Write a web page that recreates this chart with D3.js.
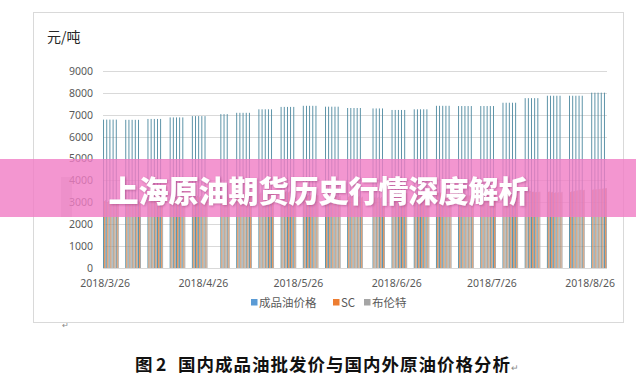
<!DOCTYPE html>
<html><head><meta charset="utf-8">
<script src="https://cdn.jsdelivr.net/npm/d3@7"></script>
<style>html,body{margin:0;padding:0;background:#fff;}svg{display:block;}</style>
</head><body>
<svg id="c" width="636" height="379"></svg>
<script>
// ---- data (trading days, grouped by week) ----
const dates = [
 "2018-03-26","2018-03-27","2018-03-28","2018-03-29","2018-03-30",
 "2018-04-02","2018-04-03","2018-04-04","2018-04-05","2018-04-06",
 "2018-04-09","2018-04-10","2018-04-11","2018-04-12","2018-04-13",
 "2018-04-16","2018-04-17","2018-04-18","2018-04-19","2018-04-20",
 "2018-04-23","2018-04-24","2018-04-25","2018-04-26","2018-04-27",
 "2018-05-02","2018-05-03","2018-05-04",
 "2018-05-07","2018-05-08","2018-05-09","2018-05-10","2018-05-11",
 "2018-05-14","2018-05-15","2018-05-16","2018-05-17","2018-05-18",
 "2018-05-21","2018-05-22","2018-05-23","2018-05-24","2018-05-25",
 "2018-05-28","2018-05-29","2018-05-30","2018-05-31","2018-06-01",
 "2018-06-04","2018-06-05","2018-06-06","2018-06-07","2018-06-08",
 "2018-06-11","2018-06-12","2018-06-13","2018-06-14","2018-06-15",
 "2018-06-19","2018-06-20","2018-06-21","2018-06-22",
 "2018-06-25","2018-06-26","2018-06-27","2018-06-28","2018-06-29",
 "2018-07-02","2018-07-03","2018-07-04","2018-07-05","2018-07-06",
 "2018-07-09","2018-07-10","2018-07-11","2018-07-12","2018-07-13",
 "2018-07-16","2018-07-17","2018-07-18","2018-07-19","2018-07-20",
 "2018-07-23","2018-07-24","2018-07-25","2018-07-26","2018-07-27",
 "2018-07-30","2018-07-31","2018-08-01","2018-08-02","2018-08-03",
 "2018-08-06","2018-08-07","2018-08-08","2018-08-09","2018-08-10",
 "2018-08-13","2018-08-14","2018-08-15","2018-08-16","2018-08-17",
 "2018-08-20","2018-08-21","2018-08-22","2018-08-23","2018-08-24",
 "2018-08-27","2018-08-28","2018-08-29","2018-08-30","2018-08-31"
];
const productPrice = [
 6780,6780,6780,6780,6780,
 6770,6770,6770,6770,6770,
 6810,6810,6810,6810,6810,
 6880,6880,6880,6880,6880,
 6940,6940,6940,6940,6940,
 7030,7030,7030,
 7090,7090,7090,7090,7090,
 7250,7250,7250,7250,7250,
 7360,7360,7360,7360,7360,
 7410,7410,7410,7410,7410,
 7370,7370,7370,7370,7370,
 7310,7310,7310,7310,7310,
 7290,7290,7290,7290,
 7220,7220,7220,7220,7220,
 7250,7250,7250,7250,7250,
 7410,7410,7410,7410,7410,
 7400,7400,7400,7400,7400,
 7400,7400,7400,7400,7400,
 7550,7550,7550,7550,7550,
 7760,7760,7760,7760,7760,
 7870,7870,7870,7870,7870,
 7870,7870,7870,7870,7870,
 8010,8010,8010,8010,8010
];
const scPrice = [
 3060,3010,2980,3000,3020,
 2990,2960,2980,3010,3030,
 3050,3120,3150,3140,3160,
 3140,3170,3200,3210,3190,
 3220,3240,3230,3210,3200,
 3230,3210,3250,
 3290,3320,3350,3380,3370,
 3390,3400,3420,3440,3450,
 3470,3480,3460,3420,3380,
 3330,3300,3320,3310,3290,
 3270,3260,3280,3270,3250,
 3260,3270,3250,3240,3220,
 3180,3200,3190,3220,
 3260,3300,3340,3360,3380,
 3400,3420,3410,3390,3400,
 3420,3440,3380,3350,3370,
 3330,3310,3320,3300,3320,
 3340,3350,3380,3400,3410,
 3430,3450,3440,3460,3470,
 3490,3510,3480,3460,3470,
 3480,3460,3430,3440,3450,
 3470,3500,3530,3560,3550,
 3570,3590,3600,3620,3640
];
const brentPrice = [
 3100,3060,3040,3050,3070,
 3030,3010,3040,3060,3080,
 3120,3180,3210,3220,3230,
 3220,3240,3270,3280,3260,
 3290,3300,3290,3280,3270,
 3300,3280,3310,
 3350,3380,3420,3440,3430,
 3450,3470,3480,3500,3510,
 3520,3530,3500,3470,3420,
 3380,3350,3360,3350,3330,
 3310,3300,3320,3300,3290,
 3300,3310,3290,3280,3260,
 3230,3250,3240,3270,
 3310,3350,3380,3400,3420,
 3440,3450,3440,3420,3430,
 3450,3470,3400,3380,3390,
 3360,3340,3350,3330,3350,
 3370,3380,3400,3420,3430,
 3450,3470,3460,3480,3490,
 3500,3520,3490,3480,3490,
 3500,3480,3460,3470,3480,
 3500,3520,3550,3580,3570,
 3590,3600,3620,3640,3650
];
const seriesNames = ["成品油价格","SC","布伦特"];
const seriesColors = ["#5b9bd5","#ed7d31","#a5a5a5"];
const barColors = ["#4a879e","#e48a4c","#a0a0a0"];
const yTicks = [0,1000,2000,3000,4000,5000,6000,7000,8000,9000];
const xTickLabels = ["2018/3/26","2018/4/26","2018/5/26","2018/6/26","2018/7/26","2018/8/26"];
const unitLabel = "元/吨";
const bannerText = "上海原油期货历史行情深度解析";
const captionParts = ["图", "2", "国内成品油批发价与国内外原油价格分析"];

// ---- drawing ----
(function () {
const svg = d3.select("#c");
const parse = d3.timeParse("%Y-%m-%d");
const parseTick = d3.timeParse("%Y/%m/%d");
const DAY = 864e5;
const start = parse("2018-03-26"), end = parse("2018-08-31");
const pL = 103, pR = 607, pT = 71, pB = 268;

const x = d3.scaleTime()
  .domain([new Date(+start - DAY/2), new Date(+end + DAY/2)])
  .range([pL, pR]);
const y = d3.scaleLinear().domain([0, 9000]).range([pB, pT]);
const sub = d3.scaleBand().domain(seriesNames).range([-1.45, 1.45]).paddingInner(0.12);

// chart frame
svg.append("rect").attr("x", 33.5).attr("y", 12.5).attr("width", 590).attr("height", 310)
  .attr("fill", "#fff").attr("stroke", "#d9d9d9").attr("stroke-width", 1);

// unit
svg.append("text").attr("x", 47).attr("y", 42).text(unitLabel)
  .attr("font-family", "'Noto Sans CJK SC', 'Noto Sans', sans-serif").attr("font-size", 14).attr("fill", "#262626");

// gridlines
const yAxis = d3.axisLeft(y).tickValues(yTicks).tickSize(-(pR - pL)).tickFormat(d3.format("d")).tickPadding(10);
const gy = svg.append("g").attr("transform", `translate(${pL},0)`).call(yAxis);
gy.select(".domain").remove();
gy.selectAll(".tick line").attr("stroke", "#d9d9d9").attr("shape-rendering", "crispEdges");
gy.selectAll(".tick text").attr("fill", "#595959").attr("font-size", 10.5)
  .attr("font-family", "'Noto Sans', 'Open Sans', sans-serif");

// bars
const seriesData = [productPrice, scPrice, brentPrice];
seriesNames.forEach((name, si) => {
  svg.append("g").selectAll("rect").data(dates.map((d, i) => ({d: parse(d), v: seriesData[si][i]})))
    .join("rect")
    .attr("x", p => x(p.d) + sub(name))
    .attr("width", sub.bandwidth())
    .attr("y", p => y(p.v))
    .attr("height", p => y(0) - y(p.v))
    .attr("fill", barColors[si]);
});

// x axis
const xAxis = d3.axisBottom(x).tickValues(xTickLabels.map(s => parseTick(s)))
  .tickFormat((d, i) => xTickLabels[i]).tickSize(0).tickPadding(12);
const gx = svg.append("g").attr("transform", `translate(0,${pB})`).call(xAxis);
gx.select(".domain").attr("stroke", "#d9d9d9").attr("d", `M${pL},0.5H${pR}`);
gx.selectAll(".tick text").attr("fill", "#595959").attr("font-size", 10.5)
  .attr("font-family", "'Noto Sans', 'Open Sans', sans-serif");

// legend
const legendX = [251, 333, 364];
const lg = svg.append("g");
seriesNames.forEach((n, i) => {
  lg.append("rect").attr("x", legendX[i]).attr("y", 299).attr("width", 6.5).attr("height", 6.5).attr("fill", seriesColors[i]);
  lg.append("text").attr("x", legendX[i] + 8).attr("y", 306.5).text(n)
    .attr("font-family", "'Noto Sans CJK SC', 'Noto Sans', sans-serif").attr("font-size", 11.5).attr("fill", "#595959");
});

// small mark under frame
svg.append("text").attr("x", 62).attr("y", 328).text("↵").attr("font-size", 8).attr("fill", "#888");

// left artifact rect
svg.append("rect").attr("x", 61).attr("y", 177).attr("width", 11).attr("height", 40).attr("fill", "#7a7a7a").attr("opacity", 0.22);

// banner
const defs = svg.append("defs");
const f = defs.append("filter").attr("id", "sh").attr("x", "-10%").attr("y", "-30%").attr("width", "120%").attr("height", "160%");
f.append("feDropShadow").attr("dx", 1).attr("dy", 1).attr("stdDeviation", 1).attr("flood-color", "#8a2d68").attr("flood-opacity", 0.45);
svg.append("rect").attr("x", 0).attr("y", 159).attr("width", 636).attr("height", 58)
  .attr("fill", "#f07cc4").attr("opacity", 0.8);
svg.append("text").attr("x", 318.5).attr("y", 201.5).attr("text-anchor", "middle").text(bannerText)
  .attr("font-family", "'Noto Sans CJK SC', sans-serif").attr("font-weight", 900).attr("font-size", 30)
  .attr("fill", "#fff").attr("filter", "url(#sh)");

// caption
const capFont = "'Noto Sans CJK SC', sans-serif";
const capAttrs = sel => sel.attr("y", 371).attr("font-family", capFont).attr("font-weight", 700)
  .attr("font-size", 17.5).attr("fill", "#111");
capAttrs(svg.append("text").attr("x", 135)).text(captionParts[0]);
capAttrs(svg.append("text").attr("x", 156)).text(captionParts[1]);
capAttrs(svg.append("text").attr("x", 178)).text(captionParts[2])
  .attr("textLength", 332).attr("lengthAdjust", "spacing");
svg.append("text").attr("x", 511).attr("y", 371).text("↵").attr("font-size", 9).attr("fill", "#888");
})();
</script>
</body></html>
